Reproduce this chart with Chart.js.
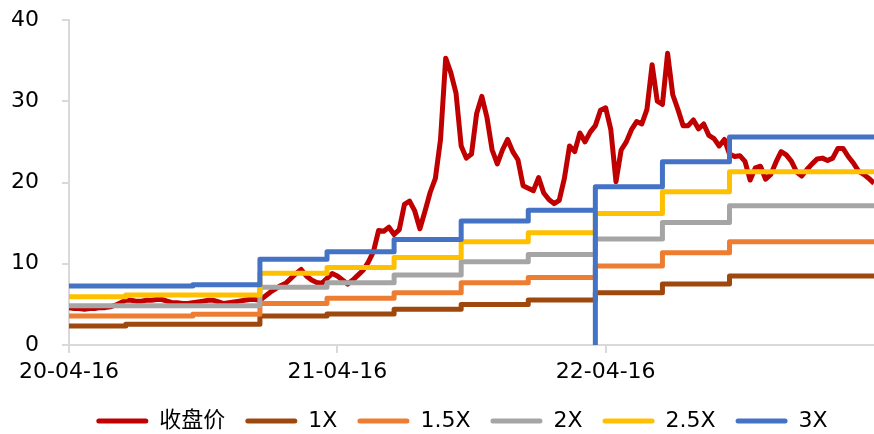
<!DOCTYPE html>
<html>
<head>
<meta charset="utf-8">
<script src="https://cdn.jsdelivr.net/npm/chart.js@4.4.1/dist/chart.umd.min.js"></script>
<style>
    html, body { margin: 0; padding: 0; background: #fff; }
    #wrap { width: 874px; height: 434px; }
</style>
</head>
<body>
<div id="wrap"><canvas id="chart"></canvas></div>
<script>
// Weekly close, week 0 = 2020-04-16
const closePrice = [
    4.6, 4.5, 4.5, 4.4, 4.5, 4.5, 4.6, 4.6, 4.7, 4.9,
    5.2, 5.5, 5.5, 5.4, 5.4, 5.5, 5.5, 5.6, 5.6, 5.4,
    5.2, 5.2, 5.1, 5.1, 5.2, 5.3, 5.4, 5.5, 5.5, 5.3,
    5.1, 5.2, 5.3, 5.4, 5.5, 5.6, 5.6, 5.5, 6.0, 6.5,
    6.9, 7.3, 7.6, 8.2, 8.8, 9.3, 8.5, 8.0, 7.7, 7.6,
    8.2, 8.8, 8.5, 8.0, 7.5, 8.0, 8.6, 9.2, 10.2, 11.5,
    14.1, 14.0, 14.5, 13.6, 14.2, 17.3, 17.7, 16.5, 14.3, 16.5,
    18.8, 20.5, 25.3, 35.3, 33.5, 31.0, 24.5, 23.0, 23.5, 28.5,
    30.6, 28.0, 24.0, 22.3, 24.0, 25.3, 23.8, 22.8, 19.6, 19.3,
    19.0, 20.6, 18.7, 17.9, 17.4, 17.8, 20.5, 24.5, 23.8, 26.1,
    25.0, 26.2, 27.0, 28.9, 29.2, 26.5, 20.1, 24.0, 25.0, 26.5,
    27.5, 27.2, 29.0, 34.5, 30.0, 29.6, 35.9, 30.8, 29.0, 27.0,
    27.0, 27.7, 26.6, 27.2, 25.8, 25.4, 24.5, 25.3, 23.5, 23.2,
    23.3, 22.6, 20.3, 21.8, 22.0, 20.4, 21.0, 22.5, 23.8, 23.4,
    22.6, 21.3, 20.8, 21.6, 22.3, 22.9, 23.0, 22.7, 23.0, 24.2,
    24.2, 23.2, 22.4, 21.4, 21.0, 20.5, 19.9
];

// Band levels, each starting at the week in bandWeeks
const bandWeeks = [0, 11, 24, 37, 50, 63, 76, 89, 102, 115, 128];
const lastWeek = 156;
const band1x  = [2.34, 2.54, 2.54, 3.57, 3.81, 4.39, 5.00, 5.53, 6.44, 7.50, 8.49];
const band15x = [3.57, 3.57, 3.77, 5.12, 5.74, 6.44, 7.67, 8.32, 9.72, 11.36, 12.71];
const band2x  = [4.84, 4.84, 4.84, 7.10, 7.67, 8.61, 10.25, 11.15, 13.04, 15.09, 17.14];
const band25x = [5.94, 6.15, 6.15, 8.82, 9.55, 10.78, 12.71, 13.82, 16.20, 18.86, 21.32];
const band3x  = [7.26, 7.26, 7.42, 10.54, 11.48, 13.00, 15.25, 16.60, 19.47, 22.55, 25.60];

// 3X has one empty day at the switch, plotted as 0
const dipWeek = 102;
const dipValue = 0;

const tickWeeks = [0, 52, 104];
const tickLabels = ['20-04-16', '21-04-16', '22-04-16'];

function stepPoints(values) {
    const pts = bandWeeks.map((w, i) => ({ x: w, y: values[i] }));
    pts.push({ x: lastWeek, y: values[values.length - 1] });
    return pts;
}

const points3x = stepPoints(band3x);
points3x.splice(points3x.findIndex(p => p.x === dipWeek), 0, { x: dipWeek, y: dipValue });

function bandSet(label, color, data, order) {
    return {
        label,
        data,
        borderColor: color,
        backgroundColor: color,
        borderWidth: 5,
        borderJoinStyle: 'round',
        stepped: true,
        pointRadius: 0,
        order
    };
}

// centre the legend row under the plot instead of the whole canvas
const legendShift = {
    id: 'legendShift',
    afterLayout(chart) {
        if (chart.legend) chart.legend.left = chart.chartArea.left - 19;
    }
};

Chart.defaults.font.family = "'DejaVu Sans', 'Noto Sans CJK SC', sans-serif";
Chart.defaults.font.size = 22;
Chart.defaults.color = '#000';

const defaultLabels = Chart.defaults.plugins.legend.labels.generateLabels;

new Chart(document.getElementById('chart'), {
    type: 'line',
    data: {
        datasets: [
            {
                label: '收盘价',
                data: closePrice.map((v, i) => ({ x: i, y: v })),
                borderColor: '#c00000',
                backgroundColor: '#c00000',
                borderWidth: 5,
                borderJoinStyle: 'round',
                pointRadius: 0,
                tension: 0,
                order: 6
            },
            bandSet('1X', '#9e480e', stepPoints(band1x), 5),
            bandSet('1.5X', '#ed7d31', stepPoints(band15x), 4),
            bandSet('2X', '#a5a5a5', stepPoints(band2x), 3),
            bandSet('2.5X', '#ffc000', stepPoints(band25x), 2),
            bandSet('3X', '#4472c4', points3x, 1)
        ]
    },
    plugins: [legendShift],
    options: {
        responsive: true,
        maintainAspectRatio: false,
        animation: false,
        layout: { padding: { top: 20, left: 0, right: 0, bottom: 0 } },
        plugins: {
            tooltip: { enabled: false },
            legend: {
                position: 'bottom',
                maxHeight: 44,
                labels: {
                    boxWidth: 52,
                    boxHeight: 5,
                    padding: 20,
                    useBorderRadius: true,
                    borderRadius: 2.5,
                    sort: (a, b) => a.datasetIndex - b.datasetIndex,
                    generateLabels: chart => defaultLabels(chart).map(item => ({ ...item, lineWidth: 0 }))
                }
            }
        },
        scales: {
            x: {
                type: 'linear',
                min: 0,
                max: lastWeek,
                afterBuildTicks: scale => { scale.ticks = tickWeeks.map(v => ({ value: v })); },
                afterFit: scale => { scale.height = 45; },
                ticks: {
                    autoSkip: false,
                    maxRotation: 0,
                    padding: 6,
                    callback: (value, index) => tickLabels[index]
                },
                grid: { drawOnChartArea: false, tickLength: 8, color: '#d9d9d9', lineWidth: 2 },
                border: { color: '#d9d9d9', width: 2 }
            },
            y: {
                min: 0,
                max: 40,
                afterFit: scale => {
                    scale.width = 69;
                    scale.paddingTop = 0;
                    scale.paddingBottom = 0;
                },
                ticks: { stepSize: 10, padding: 23 },
                grid: { drawOnChartArea: false, tickLength: 7, color: '#d9d9d9', lineWidth: 2 },
                border: { color: '#d9d9d9', width: 2 }
            }
        }
    }
});
</script>
</body>
</html>
